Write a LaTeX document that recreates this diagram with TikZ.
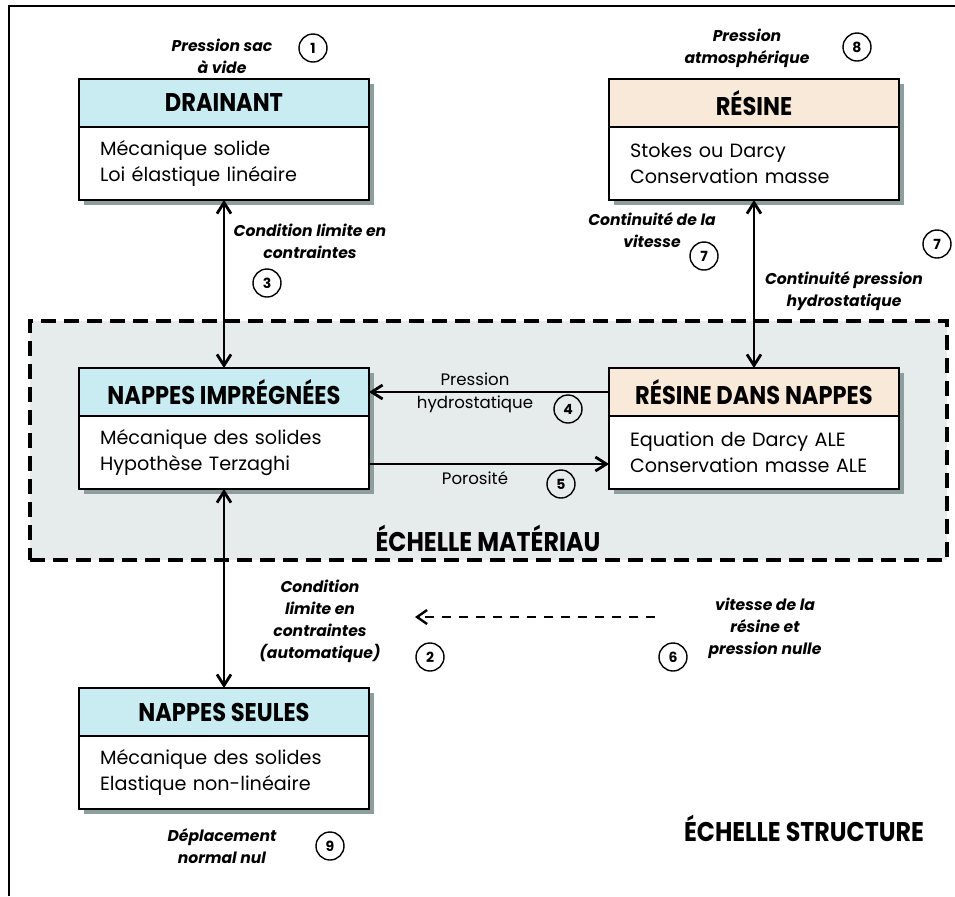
\documentclass[tikz,border=0pt]{standalone}
\usepackage{fontspec}
\setmainfont{Poppins}
\newfontfamily\headfont[FakeStretch=0.88]{Poppins}
\usetikzlibrary{arrows.meta, positioning, shadows}
\definecolor{headblue}{RGB}{200,236,241}
\definecolor{headpeach}{RGB}{249,233,216}
\definecolor{shadowgray}{RGB}{140,158,158}
\definecolor{zonegray}{RGB}{230,236,236}
\tikzstyle{boxhead} = [rectangle, draw=black, line width=1pt, outer sep=0pt, minimum width=145pt, minimum height=24pt, inner sep=0pt, text centered, font=\headfont\bfseries\fontsize{12.8}{14}\selectfont, drop shadow={shadow xshift=2.5pt, shadow yshift=-2.5pt, opacity=1, fill=shadowgray}]
\tikzstyle{boxbody} = [rectangle, draw=black, line width=1pt, outer sep=0pt, fill=white, minimum width=145pt, minimum height=36.5pt, text width=124pt, inner xsep=10.5pt, inner ysep=0pt, align=left, font=\fontsize{9.6}{13}\selectfont, drop shadow={shadow xshift=2.5pt, shadow yshift=-2.5pt, opacity=1, fill=shadowgray}]
\tikzstyle{cond} = [align=center, inner sep=0pt, font=\bfseries\itshape\fontsize{7.8}{11}\selectfont]
\tikzstyle{flux} = [align=center, inner sep=0pt, font=\fontsize{8.3}{11.5}\selectfont]
\tikzstyle{num} = [circle, draw=black, line width=0.7pt, minimum size=14pt, inner sep=0pt, font=\bfseries\fontsize{7}{8}\selectfont]
\tikzstyle{echelle} = [inner sep=0pt, font=\headfont\bfseries\fontsize{13.5}{15}\selectfont]
\tikzstyle{zonebox} = [rectangle, draw=black, fill=zonegray, line width=1.6pt, dash pattern=on 7.5pt off 4pt, minimum width=458.5pt, minimum height=119.5pt, inner sep=0pt]
\tikzstyle{link} = [line width=1.4pt, {Straight Barb[length=5.5pt, width=7pt]}-{Straight Barb[length=5.5pt, width=7pt]}]
\tikzstyle{oneway} = [line width=1.4pt, -{Straight Barb[length=5.5pt, width=7pt]}]
\tikzstyle{dashlink} = [line width=1.2pt, dash pattern=on 4.5pt off 4pt, -{Straight Barb[length=5pt, width=7pt]}]

\begin{document}
\begin{tikzpicture}[x=0.5pt, y=-0.5pt]
\useasboundingbox (0,0) rectangle (955,896);
\draw[line width=0.8pt] (9,896) -- (9,6) -- (955,6);
\node (zone) [zonebox] at (488.5,440.5) {};
\node (echmat) [echelle] at (488,538) {ÉCHELLE MATÉRIAU};
\node (echstr) [echelle] at (804,828) {ÉCHELLE STRUCTURE};

\node (drain) [boxhead, fill=headblue, anchor=north west] at (79,79) {DRAINANT};
\node (drainbody) [boxbody, below=0pt of drain] {Mécanique solide\\Loi élastique linéaire};
\node (resine) [boxhead, fill=headpeach, anchor=north west] at (609,79) {RÉSINE};
\node (resinebody) [boxbody, below=0pt of resine] {Stokes ou Darcy\\Conservation masse};
\node (impr) [boxhead, fill=headblue, anchor=north west] at (79,368) {NAPPES IMPRÉGNÉES};
\node (imprbody) [boxbody, below=0pt of impr] {Mécanique des solides\\Hypothèse Terzaghi};
\node (rdn) [boxhead, fill=headpeach, anchor=north west] at (609,368) {RÉSINE DANS NAPPES};
\node (rdnbody) [boxbody, below=0pt of rdn] {Equation de Darcy ALE\\Conservation masse ALE};
\node (seules) [boxhead, fill=headblue, anchor=north west] at (79,688) {NAPPES SEULES};
\node (seulesbody) [boxbody, below=0pt of seules] {Mécanique des solides\\Elastique non-linéaire};

\node (lab1) [cond] at (222,56) {Pression sac\\à vide};
\node (n1) [num] at (313,48) {1};
\node (lab8) [cond] at (747,48) {Pression\\atmosphérique};
\node (n8) [num] at (857,47) {8};
\node (lab3) [cond] at (310,241) {Condition limite en\\contraintes};
\node (n3) [num] at (267,283) {3};
\node (lab7a) [cond] at (652,230) {Continuité de la\\vitesse};
\node (n7a) [num] at (704,256) {7};
\node (n7b) [num] at (937,244) {7};
\node (lab7b) [cond] at (844,291) {Continuité pression\\hydrostatique};
\node (flux4) [flux] at (475,393) {Pression\\hydrostatique};
\node (n4) [num] at (568,409) {4};
\node (flux5) [flux] at (475,478) {Porosité};
\node (n5) [num] at (561,484) {5};
\node (lab2) [cond] at (320,621) {Condition\\limite en\\contraintes\\(automatique)};
\node (n2) [num] at (430,657) {2};
\node (lab6) [cond] at (765,628) {vitesse de la\\résine et\\pression nulle};
\node (n6) [num] at (673,657) {6};
\node (lab9) [cond] at (222,846) {Déplacement\\normal nul};
\node (n9) [num] at (330,846) {9};

\coordinate (vstart) at (655,617);
\coordinate (vend) at (415,617);

\draw[link] (drainbody.south) -- (impr.north);
\draw[link] (resinebody.south) -- (rdn.north);
\draw[link] (imprbody.south) -- (seules.north);
\draw[oneway] (rdn.west) -- (impr.east);
\draw[oneway] ([yshift=-5.75pt]imprbody.east) -- ([yshift=-5.75pt]rdnbody.west);
\draw[dashlink] (vstart) -- (vend);
\end{tikzpicture}
\end{document}
